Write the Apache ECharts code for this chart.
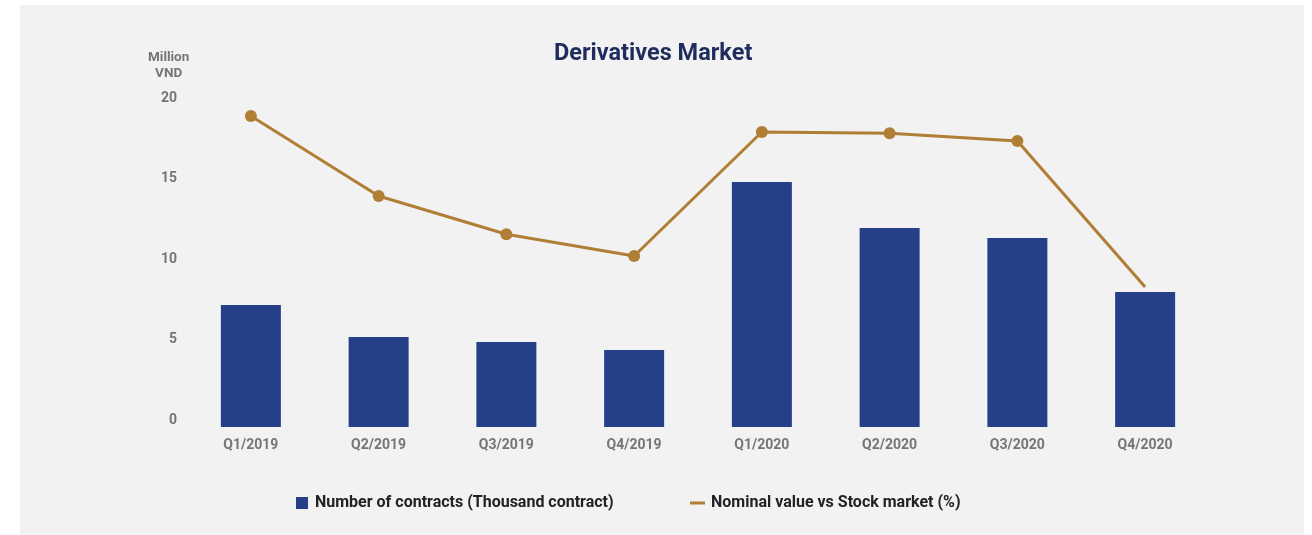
<!DOCTYPE html>
<html>
<head>
<meta charset="utf-8">
<script src="https://cdn.jsdelivr.net/npm/echarts@6/dist/echarts.min.js"></script>
<style>
html,body{margin:0;padding:0;background:#fff;}
#main{width:1312px;height:535px;}
</style>
</head>
<body>
<div id="main"></div>
<script>
// quarters
var quarters = ['Q1/2019','Q2/2019','Q3/2019','Q4/2019','Q1/2020','Q2/2020','Q3/2020','Q4/2020'];
// number of contracts (thousand)
var contracts = [7.58, 5.59, 5.28, 4.78, 15.22, 12.36, 11.74, 8.39];
// nominal value vs stock market (%)
var nominalPct = [19.32, 14.35, 11.97, 10.62, 18.32, 18.24, 17.76, 8.70];
var yTicks = [0, 5, 10, 15, 20];

var barName = 'Number of contracts (Thousand contract)';
var lineName = 'Nominal value vs Stock market (%)';

// last point has no marker
var lineData = [];
for(var i=0;i<nominalPct.length;i++){
	if(i==nominalPct.length-1){
		lineData.push({value:nominalPct[i],symbol:'none'});
	}else{
		lineData.push(nominalPct[i]);
	}
}

var myChart = echarts.init(document.getElementById('main'));
var option = {
	backgroundColor:'#ffffff',
	textStyle:{fontFamily:'Roboto'},
	graphic:[
		{type:'rect',z:-10,silent:true,shape:{x:20,y:5,width:1284,height:530},style:{fill:'#f2f2f2'}},
		{type:'text',left:148,top:50,style:{text:'Million\nVND',fill:'#757575',font:'bold 13.5px Roboto',textAlign:'center',lineHeight:16}}
	],
	title:{
		text:'Derivatives Market',
		left:549,
		top:37,
		textStyle:{color:'#1f2d5e',fontSize:23.5,fontWeight:'bold',fontFamily:'Roboto'}
	},
	legend:[
		{
			data:[barName],
			left:291,
			top:490,
			icon:'rect',
			itemWidth:12,
			itemHeight:12,
			textStyle:{color:'#222',fontSize:16,fontWeight:'bold',fontFamily:'Roboto',padding:[0,0,0,2]}
		},
		{
			data:[lineName],
			left:685,
			top:490,
			icon:'rect',
			itemWidth:15,
			itemHeight:3,
			textStyle:{color:'#222',fontSize:16,fontWeight:'bold',fontFamily:'Roboto',padding:[2,0,0,1]}
		}
	],
	grid:{left:187,right:103,top:105,bottom:108},
	xAxis:{
		type:'category',
		data:quarters,
		axisLine:{show:false},
		axisTick:{show:false},
		splitLine:{show:false},
		axisLabel:{color:'#757575',fontWeight:'bold',fontSize:14,margin:11,fontFamily:'Roboto'}
	},
	yAxis:{
		type:'value',
		min:yTicks[0],
		max:yTicks[yTicks.length-1],
		interval:5,
		axisLine:{show:false},
		axisTick:{show:false},
		splitLine:{show:false},
		axisLabel:{color:'#757575',fontWeight:'bold',fontSize:14,margin:10,fontFamily:'Roboto',verticalAlign:'bottom'}
	},
	series:[
		{
			name:barName,
			type:'bar',
			data:contracts,
			barWidth:60,
			itemStyle:{color:'#253f88'}
		},
		{
			name:lineName,
			type:'line',
			data:lineData,
			symbol:'circle',
			symbolSize:12,
			lineStyle:{color:'#b07e35',width:3},
			itemStyle:{color:'#b07e35'}
		}
	],
	animation:false
};
myChart.setOption(option,true);
</script>
</body>
</html>
